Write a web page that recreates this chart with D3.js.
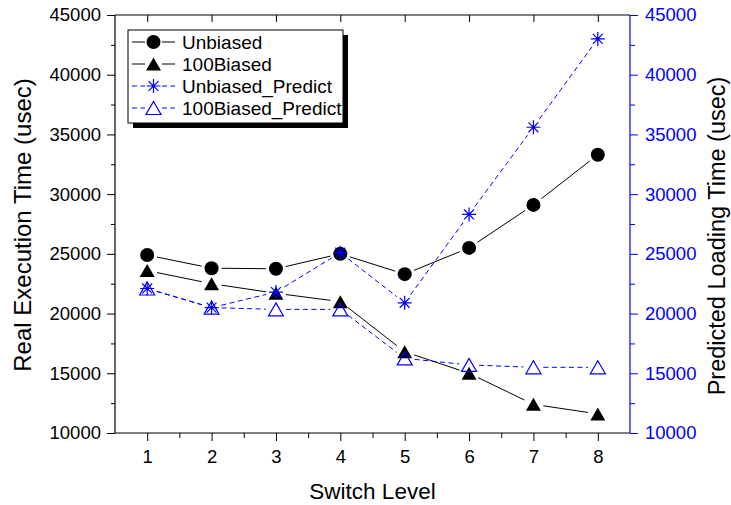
<!DOCTYPE html>
<html>
<head>
<meta charset="utf-8">
<script src="https://cdn.jsdelivr.net/npm/d3@7"></script>
<style>
  html, body { margin: 0; padding: 0; background: #fff; }
  svg { display: block; font-family: "Liberation Sans", Arial, sans-serif; }
</style>
</head>
<body>
<svg id="chart" width="731" height="505"></svg>
<script>
// Switch levels on the x axis
const levels = [1, 2, 3, 4, 5, 6, 7, 8];

// Measured execution time (left axis, usec)
const unbiased  = [24900, 23800, 23750, 25000, 23300, 25500, 29100, 33300];
const biased100 = [23600, 22500, 21700, 21000, 16800, 15000, 12400, 11600];

// Predicted loading time (right axis, usec)
const unbiasedPredict  = [22100, 20500, 21800, 25100, 20900, 28300, 35600, 43000];
const biased100Predict = [22100, 20500, 20350, 20350, 16250, 15700, 15500, 15500];

// Tick values
const yMajorTicks = [10000, 15000, 20000, 25000, 30000, 35000, 40000, 45000];
const yMinorTicks = [12500, 17500, 22500, 27500, 32500, 37500, 42500];
const xMinorTicks = [1.5, 2.5, 3.5, 4.5, 5.5, 6.5, 7.5];

const BLUE = "#0000ff";
const svg = d3.select("#chart");

const plot = { left: 115, right: 630, top: 15, bottom: 433 };

const x = d3.scaleLinear().domain([0.5, 8.5]).range([plot.left, plot.right]);
const yL = d3.scaleLinear().domain([10000, 45000]).range([plot.bottom, plot.top]);
const yR = d3.scaleLinear().domain([10000, 45000]).range([plot.bottom, plot.top]);

const fmt = d3.format("d");

// ---- axes ----
function styleAxis(g, color) {
  g.select(".domain").remove();
  g.selectAll("line").attr("stroke", color).attr("stroke-width", 1);
  g.selectAll("text").attr("fill", color).attr("font-size", 18.5)
    .attr("font-family", "'Liberation Sans', Arial, sans-serif");
}

// left axis (black)
svg.append("g").attr("transform", `translate(${plot.left},0)`)
  .call(d3.axisLeft(yL).tickValues(yMajorTicks).tickSize(8).tickPadding(6).tickFormat(fmt))
  .call(g => styleAxis(g, "#000"));
svg.append("g").attr("transform", `translate(${plot.left},0)`)
  .call(d3.axisLeft(yL).tickValues(yMinorTicks).tickSize(4).tickFormat(""))
  .call(g => styleAxis(g, "#000"));

// right axis (blue)
svg.append("g").attr("transform", `translate(${plot.right},0)`)
  .call(d3.axisRight(yR).tickValues(yMajorTicks).tickSize(8).tickPadding(7).tickFormat(fmt))
  .call(g => styleAxis(g, BLUE));
svg.append("g").attr("transform", `translate(${plot.right},0)`)
  .call(d3.axisRight(yR).tickValues(yMinorTicks).tickSize(5).tickFormat(""))
  .call(g => styleAxis(g, BLUE));

// bottom axis
svg.append("g").attr("transform", `translate(0,${plot.bottom})`)
  .call(d3.axisBottom(x).tickValues(levels).tickSize(8).tickPadding(9).tickFormat(fmt))
  .call(g => styleAxis(g, "#000"));
svg.append("g").attr("transform", `translate(0,${plot.bottom})`)
  .call(d3.axisBottom(x).tickValues(xMinorTicks).tickSize(5).tickFormat(""))
  .call(g => styleAxis(g, "#000"));

// top axis: inward major ticks only
svg.append("g").attr("transform", `translate(0,${plot.top})`)
  .call(d3.axisTop(x).tickValues(levels).tickSize(-7).tickFormat(""))
  .call(g => styleAxis(g, "#000"));

// frame
svg.append("line").attr("x1", plot.left).attr("x2", plot.right).attr("y1", plot.top).attr("y2", plot.top)
  .attr("stroke", "#000").attr("stroke-width", 1.2);
svg.append("line").attr("x1", plot.left).attr("x2", plot.right).attr("y1", plot.bottom).attr("y2", plot.bottom)
  .attr("stroke", "#000").attr("stroke-width", 1.2);
svg.append("line").attr("x1", plot.left).attr("x2", plot.left).attr("y1", plot.top).attr("y2", plot.bottom)
  .attr("stroke", "#000").attr("stroke-width", 1.2);
svg.append("line").attr("x1", plot.right).attr("x2", plot.right).attr("y1", plot.top).attr("y2", plot.bottom)
  .attr("stroke", BLUE).attr("stroke-width", 1.2);

// axis titles
svg.append("text").attr("x", (plot.left + plot.right) / 2).attr("y", 499)
  .attr("text-anchor", "middle").attr("font-size", 22.5).attr("fill", "#000")
  .text("Switch Level");
svg.append("text").attr("transform", "translate(31,225) rotate(-90)")
  .attr("text-anchor", "middle").attr("font-size", 24).attr("fill", "#000")
  .text("Real Execution Time (usec)");
svg.append("text").attr("transform", "translate(725,236) rotate(-90)")
  .attr("text-anchor", "middle").attr("font-size", 23.5).attr("fill", "#000")
  .text("Predicted Loading Time (usec)");

// ---- marker shapes ----
function triPath(w, h) {
  return `M0,${-h / 2}L${w / 2},${h / 2}L${-w / 2},${h / 2}Z`;
}
function starPath(r) {
  const d = r * Math.SQRT1_2;
  return `M0,${-r}V${r}M${-d},${-d}L${d},${d}M${d},${-d}L${-d},${d}M${-r},0H${r}`;
}

function drawMarker(g, kind) {
  if (kind === "circle") {
    g.append("circle").attr("r", 7).attr("fill", "#000");
  } else if (kind === "tri") {
    g.append("path").attr("d", triPath(15, 13)).attr("fill", "#000");
  } else if (kind === "otri") {
    g.append("path").attr("d", triPath(15, 13)).attr("fill", "none")
      .attr("stroke", BLUE).attr("stroke-width", 1.2);
  } else if (kind === "star") {
    g.append("path").attr("d", starPath(7)).attr("fill", "none")
      .attr("stroke", BLUE).attr("stroke-width", 1.2);
    g.append("circle").attr("r", 1.6).attr("fill", BLUE);
  }
}

const series = [
  { name: "Unbiased",          values: unbiased,         y: yL, color: "#000", dash: null,  marker: "circle" },
  { name: "100Biased",         values: biased100,        y: yL, color: "#000", dash: null,  marker: "tri" },
  { name: "Unbiased_Predict",  values: unbiasedPredict,  y: yR, color: BLUE,   dash: "5,3.5", marker: "star" },
  { name: "100Biased_Predict", values: biased100Predict, y: yR, color: BLUE,   dash: "5,3.5", marker: "otri" }
];

// connecting lines, leaving a small gap around each symbol
const GAP = 10;
series.forEach(s => {
  const pts = levels.map((lv, i) => [x(lv), s.y(s.values[i])]);
  const g = svg.append("g");
  for (let i = 0; i < pts.length - 1; i++) {
    const [x0, y0] = pts[i], [x1, y1] = pts[i + 1];
    const len = Math.hypot(x1 - x0, y1 - y0);
    if (len <= 2 * GAP) continue;
    const ux = (x1 - x0) / len, uy = (y1 - y0) / len;
    g.append("path")
      .attr("d", d3.line()([[x0 + ux * GAP, y0 + uy * GAP], [x1 - ux * GAP, y1 - uy * GAP]]))
      .attr("stroke", s.color).attr("stroke-width", 1)
      .attr("stroke-dasharray", s.dash).attr("fill", "none");
  }
});

// symbols
series.forEach(s => {
  levels.forEach((lv, i) => {
    const g = svg.append("g").attr("transform", `translate(${x(lv)},${s.y(s.values[i])})`);
    drawMarker(g, s.marker);
  });
});

// ---- legend ----
const lg = svg.append("g").attr("transform", "translate(128,30)");
lg.append("rect").attr("x", 5).attr("y", 5).attr("width", 215).attr("height", 93).attr("fill", "#000");
lg.append("rect").attr("x", 0).attr("y", 0).attr("width", 215).attr("height", 93)
  .attr("fill", "#fff").attr("stroke", "#000").attr("stroke-width", 1);

const rowY = [12, 34, 56, 78];
series.forEach((s, i) => {
  const row = lg.append("g").attr("transform", `translate(0,${rowY[i]})`);
  row.append("line").attr("x1", 4).attr("x2", 17).attr("y1", 0).attr("y2", 0)
    .attr("stroke", s.color).attr("stroke-dasharray", s.dash);
  row.append("line").attr("x1", 34).attr("x2", 47).attr("y1", 0).attr("y2", 0)
    .attr("stroke", s.color).attr("stroke-dasharray", s.dash);
  drawMarker(row.append("g").attr("transform", "translate(25.5,0)"), s.marker);
  row.append("text").attr("x", 54).attr("y", 0).attr("dy", "0.35em")
    .attr("font-size", 19).attr("fill", "#000").text(s.name);
});
</script>
</body>
</html>
